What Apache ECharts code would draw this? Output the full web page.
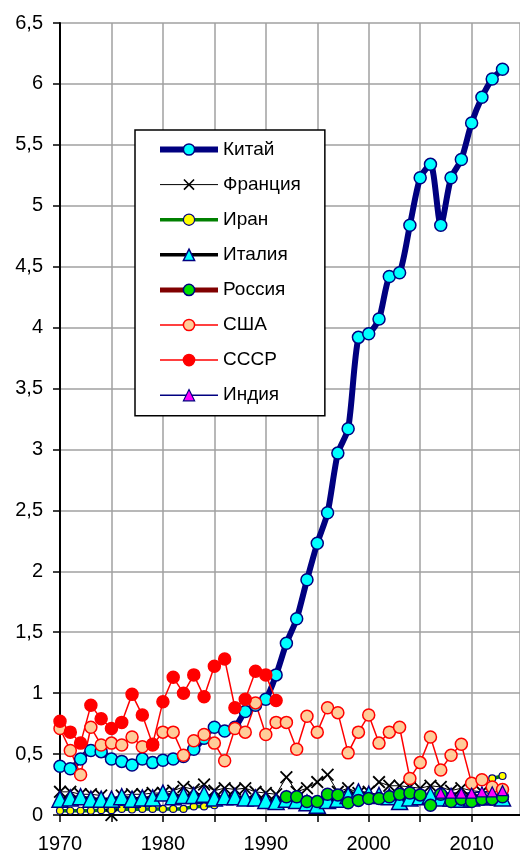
<!DOCTYPE html>
<html>
<head>
<meta charset="utf-8">
<script src="https://cdn.jsdelivr.net/npm/echarts@6/dist/echarts.min.js"></script>
<style>
html,body{margin:0;padding:0;background:#fff;}
#chart{width:520px;height:854px;}
</style>
</head>
<body>
<div id="chart"></div>
<script>
const years = [1970,1971,1972,1973,1974,1975,1976,1977,1978,1979,1980,1981,1982,1983,1984,1985,1986,1987,1988,1989,1990,1991,1992,1993,1994,1995,1996,1997,1998,1999,2000,2001,2002,2003,2004,2005,2006,2007,2008,2009,2010,2011,2012,2013];

const china = [0.40,0.38,0.46,0.53,0.52,0.46,0.44,0.41,0.46,0.43, 0.45,0.46,0.48,0.54,0.63,0.72,0.69,0.72,0.85,0.90, 0.95,1.15,1.41,1.61,1.93,2.23,2.48,2.97,3.17,3.92, 3.95,4.07,4.42,4.45,4.84,5.23,5.34,4.84,5.23,5.38, 5.68,5.89,6.04,6.12];
const france = [0.19,0.19,0.17,0.17,0.16,0.0,0.16,0.17,0.17,0.18, 0.18,0.20,0.23,0.21,0.25,0.20,0.22,0.21,0.22,0.19, 0.18,0.17,0.31,0.19,0.22,0.27,0.33,0.19,0.22,0.18, 0.19,0.27,0.24,0.24,0.23,0.22,0.24,0.23,0.20,0.22, 0.20,0.19,0.17,0.17];
const iran = [0.035,0.035,0.035,0.035,0.04,0.04,0.05,0.045,0.05,0.05, 0.05,0.05,0.05,0.07,0.07,0.08,null,null,null,null, null,null,null,null,null,null,null,null,null,null, null,null,null,null,null,null,null,null,null,null, null,null,0.30,0.32];
const italy = [0.13,0.14,0.15,0.13,0.13,0.13,0.15,0.13,0.14,0.14, 0.18,0.15,0.16,0.16,0.17,0.14,0.15,0.15,0.14,0.14, 0.12,0.11,0.13,0.12,0.10,0.08,0.12,0.13,0.16,0.19, 0.17,0.16,0.15,0.11,0.14,0.15,0.16,0.14,0.14,0.13, 0.14,0.15,0.15,0.14];
const russia = [null,null,null,null,null,null,null,null,null,null, null,null,null,null,null,null,null,null,null,null, null,null,0.15,0.15,0.11,0.11,0.17,0.165,0.10,0.12, 0.135,0.135,0.15,0.17,0.18,0.165,0.08,0.17,0.11,0.13, 0.11,0.13,0.13,0.15];
const usa = [0.71,0.53,0.33,0.72,0.575,0.59,0.575,0.64,0.56,0.575, 0.68,0.68,0.49,0.61,0.66,0.59,0.445,0.71,0.68,0.92, 0.66,0.76,0.76,0.54,0.81,0.68,0.88,0.84,0.51,0.68, 0.82,0.59,0.68,0.72,0.30,0.43,0.64,0.37,0.49,0.58, 0.26,0.29,0.23,0.21];
const ussr = [0.77,0.68,0.59,0.90,0.79,0.71,0.76,0.99,0.82,0.58, 0.93,1.13,1.00,1.15,0.97,1.22,1.28,0.88,0.95,1.18, 1.15,0.94,null,null,null,null,null,null,null,null, null,null,null,null,null,null,null,null,null,null, null,null,null,null];
const india = [null,null,null,null,null,null,null,null,null,null, null,null,null,null,null,null,null,null,null,null, null,null,null,null,null,null,null,null,null,null, null,null,null,null,null,null,null,0.18,0.18,0.18, 0.18,0.19,0.19,0.20];

const names = ['Китай','Франция','Иран','Италия','Россия','США','СССР','Индия'];
const yTicks = ['0','0,5','1','1,5','2','2,5','3','3,5','4','4,5','5','5,5','6','6,5'];
const xLabels = ['1970','1980','1990','2000','2010'];

function pairs(arr){ return years.map((y,i)=>[y, arr[i]]); }

const crossPath = 'path://M1,0 L5,4 L9,0 L10,1 L6,5 L10,9 L9,10 L5,6 L1,10 L0,9 L4,5 L0,1 Z';

function mk(name, data, o){
  return {
    name: name, type: 'line', data: pairs(data),
    symbol: o.symbol, symbolSize: o.size, showAllSymbol: true,
    connectNulls: false, smooth: o.smooth || false,
    lineStyle: {color: o.line, width: o.lw},
    itemStyle: {color: o.fill, borderColor: o.border, borderWidth: o.bw},
    emphasis: {disabled: true},
    animation: false
  };
}

const series = [
  mk(names[0], china, {symbol:'circle', size:12, line:'#000080', lw:6, fill:'#00FFFF', border:'#000080', bw:1.5, smooth:0.25}),
  mk(names[1], france, {symbol:crossPath, size:13, line:'#000000', lw:1, fill:'#000000', border:'#000000', bw:0}),
  mk(names[2], iran, {symbol:'circle', size:7, line:'#008000', lw:3.5, fill:'#FFFF00', border:'#000080', bw:1.2}),
  mk(names[3], italy, {symbol:'triangle', size:16, line:'#000000', lw:3.5, fill:'#00FFFF', border:'#000080', bw:1.5}),
  mk(names[4], russia, {symbol:'circle', size:12, line:'#800000', lw:5, fill:'#00E000', border:'#000080', bw:1.5}),
  mk(names[5], usa, {symbol:'circle', size:12, line:'#FF0000', lw:1.5, fill:'#FFCC99', border:'#FF0000', bw:1.5}),
  mk(names[6], ussr, {symbol:'circle', size:12, line:'#FF0000', lw:1.5, fill:'#FF0000', border:'#FF0000', bw:1.5}),
  mk(names[7], india, {symbol:'triangle', size:10, line:'#000080', lw:1.5, fill:'#FF00FF', border:'#000080', bw:1.2})
];

const chart = echarts.init(document.getElementById('chart'), null, {renderer:'canvas'});
chart.setOption({
  backgroundColor: '#ffffff',
  animation: false,
  grid: {left: 60, right: 0, top: 23, bottom: 39, containLabel: false},
  legend: {
    orient: 'vertical', left: 135, top: 130,
    data: names,
    itemWidth: 58, itemHeight: 14, itemGap: 16.1,
    padding: [10, 24, 11, 22],
    borderColor: '#000', borderWidth: 1.5, backgroundColor: '#fff',
    lineStyle: {width: 'inherit'},
    itemStyle: {borderWidth: 'inherit'},
    textStyle: {fontFamily: 'Liberation Sans, Arial, sans-serif', fontSize: 19, color: '#000'},
    selectedMode: false
  },
  xAxis: {
    type: 'value', min: 1970, max: 2014.7, interval: 5,
    axisLine: {show: true, onZero: false, lineStyle: {color: '#000', width: 2}},
    axisTick: {show: true, inside: false, length: 7, lineStyle: {color: '#000', width: 1.5}},
    splitLine: {show: true, lineStyle: {color: '#a0a0a0', width: 1.5}},
    axisLabel: {
      margin: 19, fontSize: 20, color: '#000', fontFamily: 'Liberation Sans, Arial, sans-serif',
      showMaxLabel: false,
      formatter: function(v){ const s = String(v); return xLabels.indexOf(s) >= 0 ? s : ''; }
    }
  },
  yAxis: {
    type: 'value', min: 0, max: 6.5, interval: 0.5,
    axisLine: {show: true, lineStyle: {color: '#000', width: 2}},
    axisTick: {show: true, inside: false, length: 7, lineStyle: {color: '#000', width: 1.5}},
    splitLine: {show: true, lineStyle: {color: '#a0a0a0', width: 1.5}},
    axisLabel: {
      margin: 17, fontSize: 20, color: '#000', fontFamily: 'Liberation Sans, Arial, sans-serif',
      formatter: function(v){ return yTicks[Math.round(v/0.5)]; }
    }
  },
  series: series
});
</script>
</body>
</html>
